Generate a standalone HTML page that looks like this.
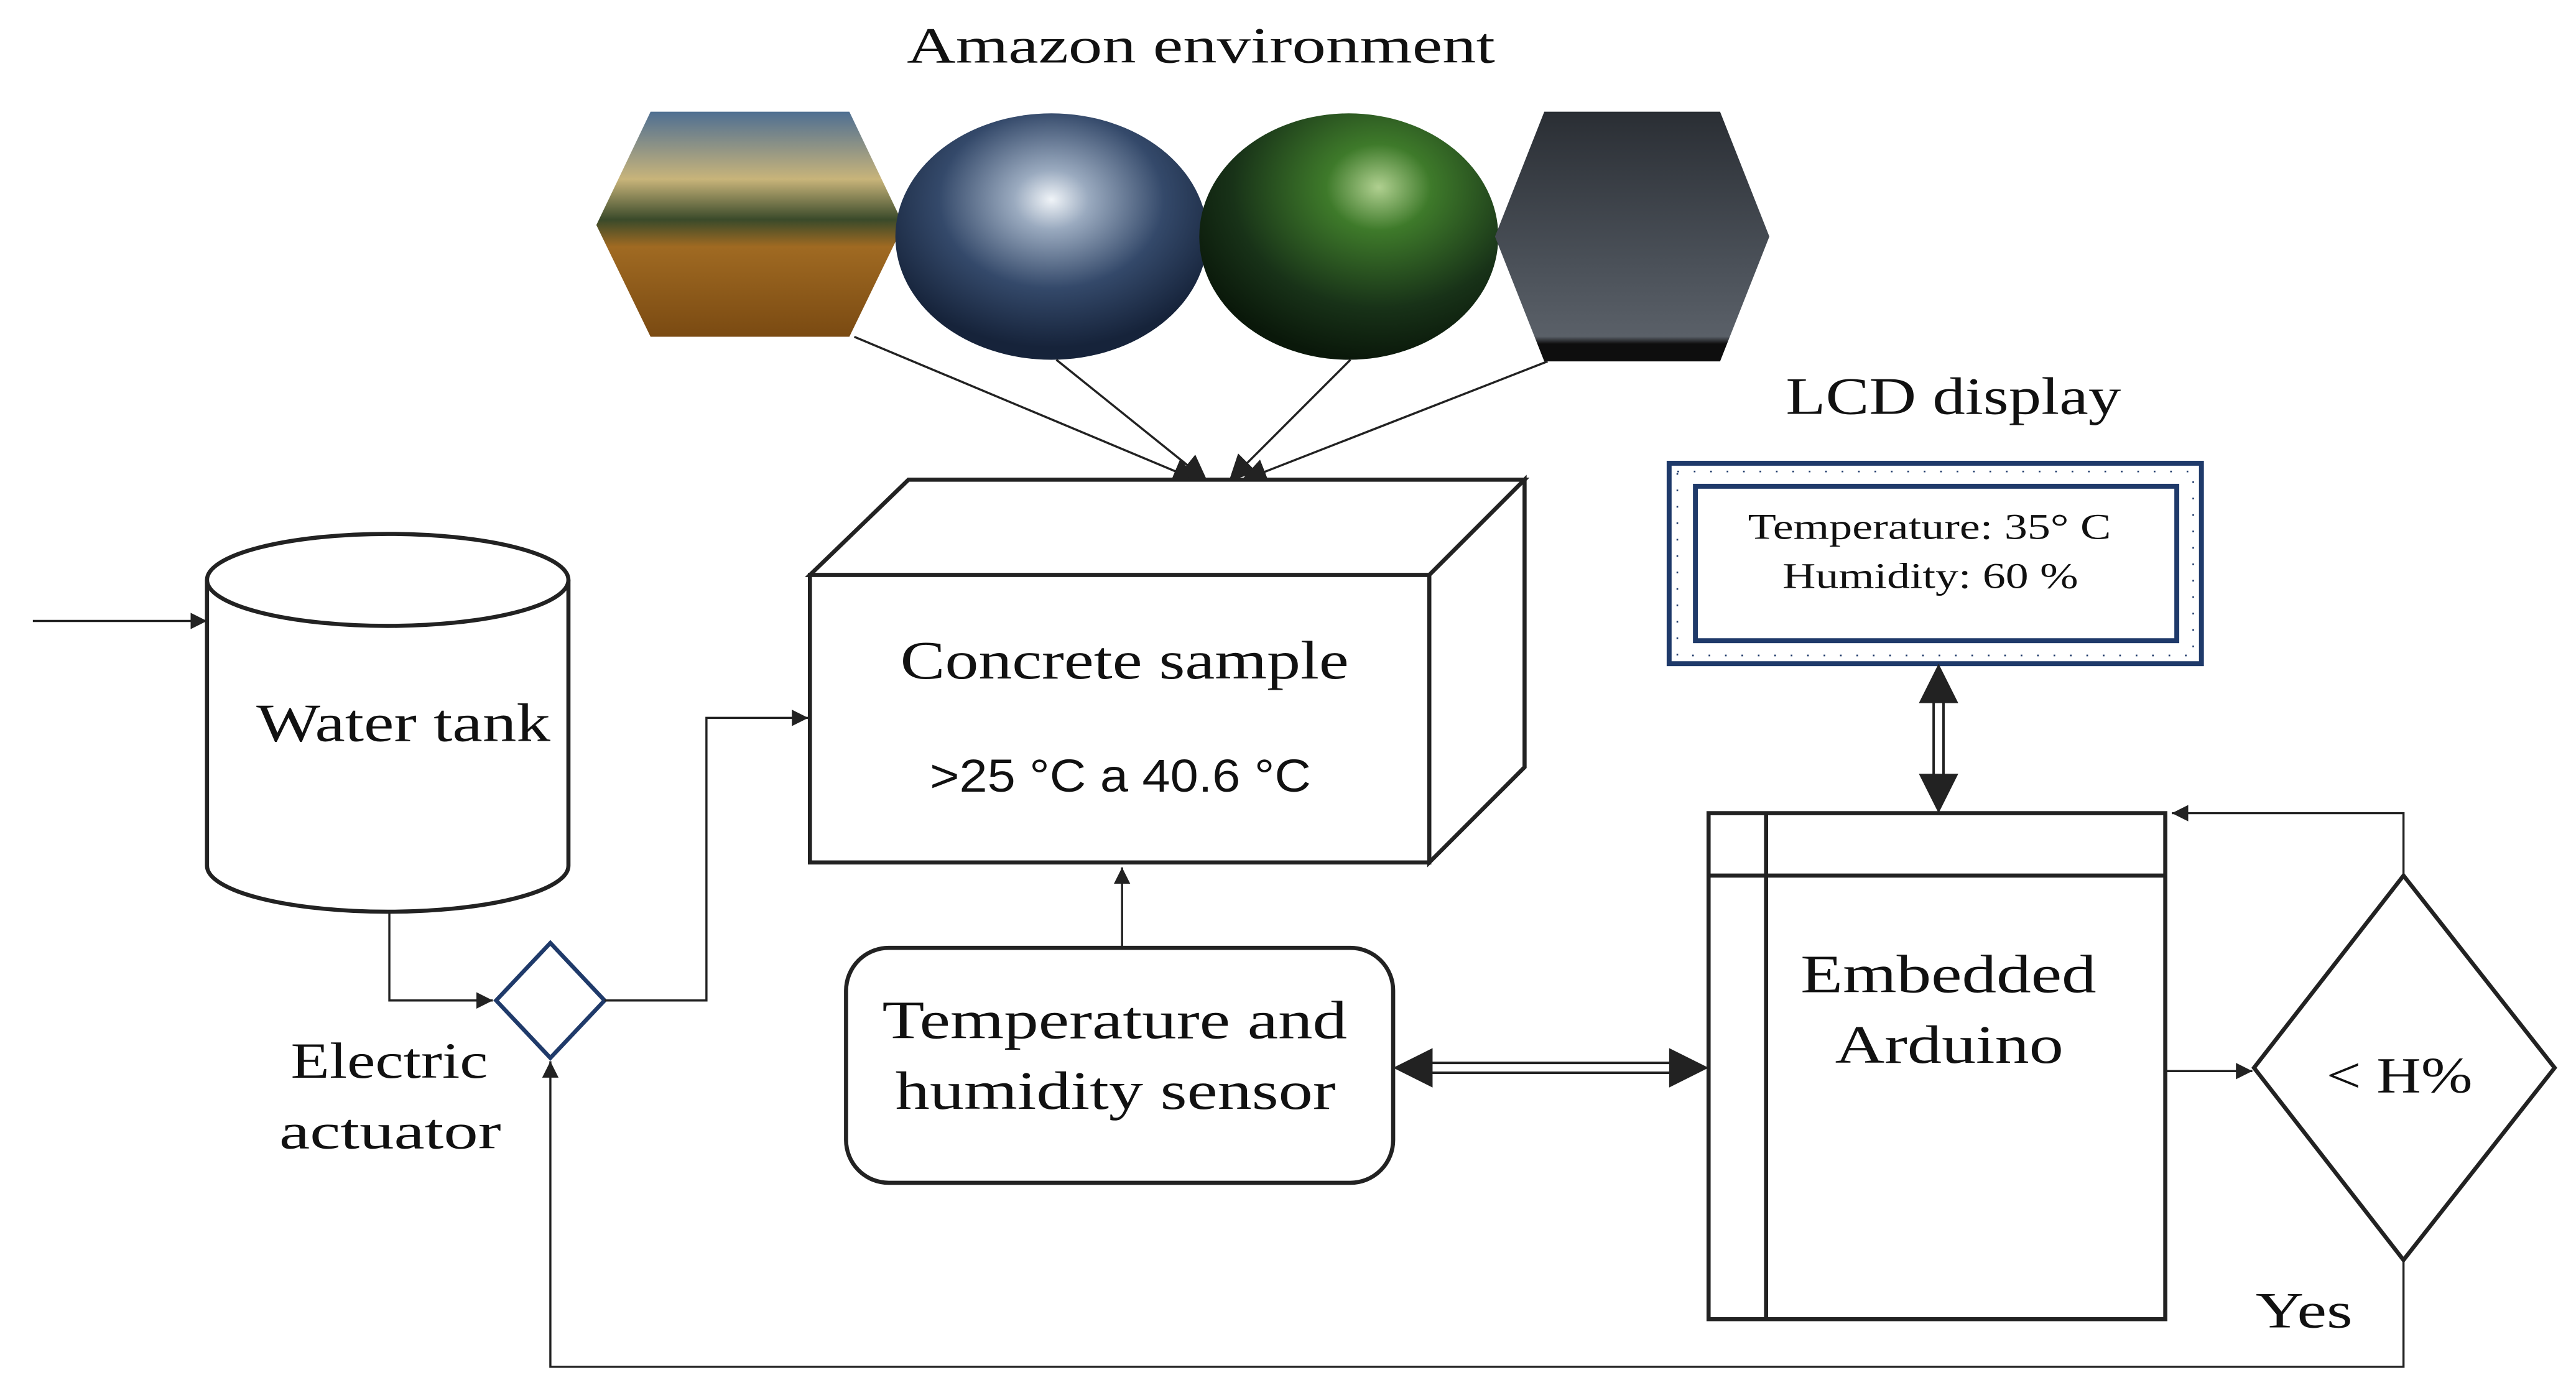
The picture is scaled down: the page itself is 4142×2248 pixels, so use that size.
<!DOCTYPE html>
<html><head><meta charset="utf-8"><style>
html,body{margin:0;padding:0;background:#fff;}
svg{display:block;}
</style></head><body>
<svg width="4142" height="2248" viewBox="0 0 1568 851" xmlns="http://www.w3.org/2000/svg">
<defs>
<marker id="ar" viewBox="0 0 10 10" refX="10" refY="5" markerWidth="10" markerHeight="10" markerUnits="userSpaceOnUse" orient="auto"><path d="M0,0L10,5L0,10z" fill="#222"/></marker>
<marker id="am" viewBox="0 0 10 10" refX="10" refY="5" markerWidth="16" markerHeight="16" markerUnits="userSpaceOnUse" orient="auto"><path d="M0,0L10,5L0,10z" fill="#222"/></marker>
<linearGradient id="g1" x1="0" y1="0" x2="0" y2="1"><stop offset="0" stop-color="#4f6f92"/><stop offset="0.3" stop-color="#c8b47a"/><stop offset="0.48" stop-color="#3a4a2a"/><stop offset="0.6" stop-color="#a06a22"/><stop offset="1" stop-color="#7a4a12"/></linearGradient>
<radialGradient id="g2" cx="0.5" cy="0.35" r="0.6"><stop offset="0" stop-color="#f0f4f8"/><stop offset="0.2" stop-color="#9aaabf"/><stop offset="0.6" stop-color="#34496a"/><stop offset="1" stop-color="#16233a"/></radialGradient>
<radialGradient id="g3" cx="0.6" cy="0.3" r="0.7"><stop offset="0" stop-color="#b0d090"/><stop offset="0.25" stop-color="#3e7a2a"/><stop offset="0.7" stop-color="#183218"/><stop offset="1" stop-color="#0a180a"/></radialGradient>
<linearGradient id="g4" x1="0" y1="0" x2="0" y2="1"><stop offset="0" stop-color="#2a2e34"/><stop offset="0.6" stop-color="#4a5058"/><stop offset="0.9" stop-color="#5a6068"/><stop offset="0.93" stop-color="#0e0e0e"/><stop offset="1" stop-color="#0e0e0e"/></linearGradient>
</defs>
<g font-family="'Liberation Serif',serif" fill="#111">
<text x="552" y="38" font-size="31" textLength="358" lengthAdjust="spacingAndGlyphs">Amazon environment</text>
<text x="1087" y="252" font-size="32" textLength="204" lengthAdjust="spacingAndGlyphs">LCD display</text>
</g>
<polygon points="363,137 396,68 517,68 550,137 517,205 396,205" fill="url(#g1)"/>
<ellipse cx="640" cy="144" rx="95" ry="75" fill="url(#g2)"/>
<ellipse cx="821" cy="144" rx="91" ry="75" fill="url(#g3)"/>
<polygon points="910,144 940,68 1047,68 1077,144 1047,220 940,220" fill="url(#g4)"/>
<g stroke="#222" stroke-width="1.3" fill="none">
<line x1="520" y1="205" x2="730" y2="293" marker-end="url(#am)"/>
<line x1="643" y1="219" x2="735" y2="293" marker-end="url(#am)"/>
<line x1="822" y1="219" x2="748" y2="293" marker-end="url(#am)"/>
<line x1="942" y1="220" x2="755" y2="293" marker-end="url(#am)"/>
</g>
<g stroke="#222" stroke-width="2.5" fill="#fff">
<polygon points="493,350 553,292 928,292 870,350"/>
<polygon points="870,350 928,292 928,467 870,525"/>
<rect x="493" y="350" width="377" height="175"/>
<path d="M126,353 L126,527 A110,28 0 0 0 346,527 L346,353"/>
<ellipse cx="236" cy="353" rx="110" ry="28"/>
<rect x="515" y="577" width="333" height="143" rx="26"/>
<rect x="1040" y="495" width="278" height="308"/>
<line x1="1040" y1="533" x2="1318" y2="533"/>
<line x1="1075" y1="495" x2="1075" y2="803"/>
<polygon points="1463,533 1555,650 1463,767 1372,650"/>
</g>
<polygon points="335,574 368,609 335,644 302,609" fill="#fff" stroke="#1f3a6a" stroke-width="2.5"/>
<rect x="1016" y="282" width="324" height="122" fill="#fff" stroke="#1f3a6a" stroke-width="3"/>
<rect x="1021" y="287" width="314" height="112" fill="none" stroke="#1f3a6a" stroke-width="1" stroke-dasharray="1 9"/>
<rect x="1032" y="296" width="293" height="94" fill="#fff" stroke="#1f3a6a" stroke-width="3"/>
<g stroke="#222" stroke-width="1.3" fill="none">
<line x1="20" y1="378" x2="126" y2="378" marker-end="url(#ar)"/>
<polyline points="237,555 237,609 300,609" marker-end="url(#ar)"/>
<polyline points="368,609 430,609 430,437 492,437" marker-end="url(#ar)"/>
<line x1="683" y1="577" x2="683" y2="528" marker-end="url(#ar)"/>
<line x1="1318" y1="652" x2="1371" y2="652" marker-end="url(#ar)"/>
<polyline points="1463,533 1463,495 1322,495" marker-end="url(#ar)"/>
<polyline points="1463,767 1463,832 335,832 335,646" marker-end="url(#ar)"/>
</g>
<g stroke="#222" stroke-width="1.5" fill="none">
<line x1="870" y1="647" x2="1018" y2="647"/><line x1="870" y1="653" x2="1018" y2="653"/>
<line x1="1177" y1="426" x2="1177" y2="473"/><line x1="1183" y1="426" x2="1183" y2="473"/>
</g>
<polygon points="848,650 872,638 872,662" fill="#222"/>
<polygon points="1040,650 1016,638 1016,662" fill="#222"/>
<polygon points="1180,404 1168,428 1192,428" fill="#222"/>
<polygon points="1180,495 1168,471 1192,471" fill="#222"/>
<g font-family="'Liberation Serif',serif" fill="#111" lengthAdjust="spacingAndGlyphs">
<text x="548" y="413" font-size="33" textLength="273" lengthAdjust="spacingAndGlyphs">Concrete sample</text>
<text x="156" y="451" font-size="33" textLength="179" lengthAdjust="spacingAndGlyphs">Water tank</text>
<text x="177" y="656" font-size="31" textLength="120" lengthAdjust="spacingAndGlyphs">Electric</text>
<text x="170" y="699" font-size="31" textLength="135" lengthAdjust="spacingAndGlyphs">actuator</text>
<text x="537" y="632" font-size="33" textLength="283" lengthAdjust="spacingAndGlyphs">Temperature and</text>
<text x="545" y="675" font-size="33" textLength="268" lengthAdjust="spacingAndGlyphs">humidity sensor</text>
<text x="1096" y="604" font-size="33" textLength="180" lengthAdjust="spacingAndGlyphs">Embedded</text>
<text x="1117" y="647" font-size="33" textLength="139" lengthAdjust="spacingAndGlyphs">Arduino</text>
<text x="1416" y="665" font-size="31" textLength="89" lengthAdjust="spacingAndGlyphs">&lt; H%</text>
<text x="1373" y="808" font-size="31" textLength="59" lengthAdjust="spacingAndGlyphs">Yes</text>
<text x="1064" y="328" font-size="22" textLength="221" lengthAdjust="spacingAndGlyphs">Temperature: 35° C</text>
<text x="1085" y="358" font-size="22" textLength="180" lengthAdjust="spacingAndGlyphs">Humidity: 60 %</text>
</g>
<text x="566" y="482" font-size="28" textLength="232" lengthAdjust="spacingAndGlyphs" font-family="'Liberation Sans',sans-serif" fill="#111">&gt;25 °C a 40.6 °C</text>
</svg>
</body></html>
